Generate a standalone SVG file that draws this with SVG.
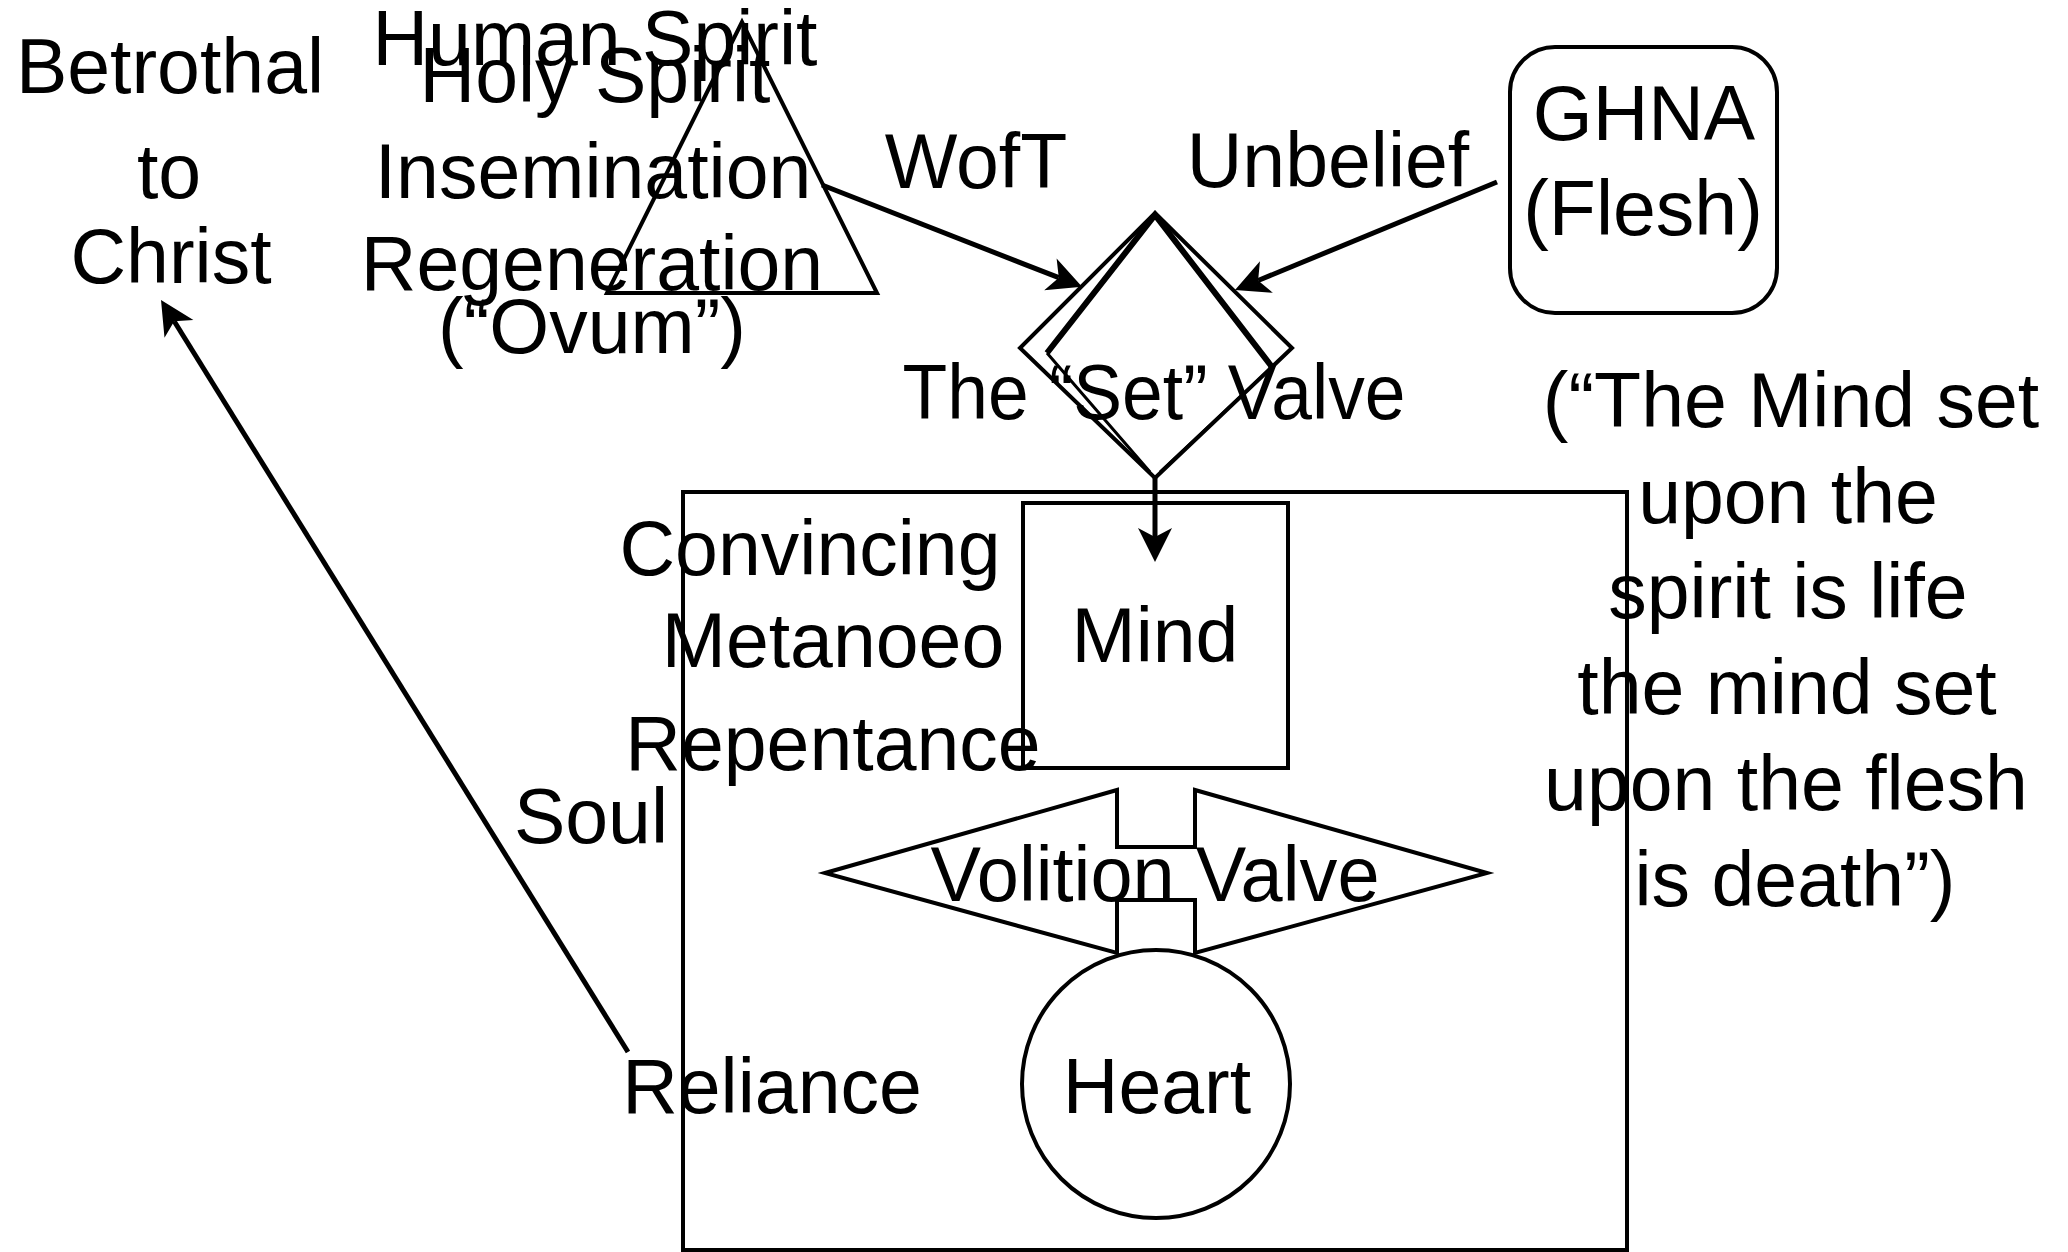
<svg xmlns="http://www.w3.org/2000/svg" width="2068" height="1252" viewBox="0 0 2068 1252">
<style>
.t{font-family:"Liberation Sans",Arial,sans-serif;font-size:77px;fill:#000;text-anchor:middle}
.s{fill:none;stroke:#000;stroke-width:4;stroke-linejoin:miter}
.c{fill:none;stroke:#000;stroke-width:5}
</style>
<defs>
<marker id="ah" viewBox="-10 -18 36 36" refX="0" refY="0" markerWidth="36" markerHeight="36" markerUnits="userSpaceOnUse" orient="auto">
<path d="M25,0 L-9,-17 L0,0 L-9,17 Z" fill="#000"/>
</marker>
</defs>
<rect width="2068" height="1252" fill="#fff"/>

<g id="soul">
<rect class="s" x="683" y="492" width="944" height="758" stroke-width="4.5"/>
<text class="t" x="591" y="843">Soul</text>
</g>

<g id="betrothal">
<text class="t" x="170" y="93">Betrothal</text>
<text class="t" x="169" y="198">to</text>
<text class="t" x="171" y="283">Christ</text>
</g>

<g id="spirit">
<polygon class="s" points="742,22 607,293 877,293"/>
<text class="t" x="595" y="65">Human Spirit</text>
<text class="t" x="595" y="102">Holy Spirit</text>
<text class="t" x="593" y="198">Insemination</text>
<text class="t" x="592" y="290">Regeneration</text>
<text class="t" x="592" y="353">(“Ovum”)</text>
</g>

<g id="set-valve">
<polygon class="s" points="1155,213 1292,348 1155,478 1020,348" stroke-width="3.5"/>
<path d="M1047,353 L1155,215 L1272,367" fill="none" stroke="#000" stroke-width="6"/>
<path d="M1047,353 L1150,472 M1272,367 L1160,472" fill="none" stroke="#000" stroke-width="3"/>
<text class="t" x="1154" y="419" textLength="503" lengthAdjust="spacingAndGlyphs">The “Set” Valve</text>
</g>

<g id="ghna">
<rect class="s" x="1510" y="47" width="267" height="266" rx="45" ry="45"/>
<text class="t" x="1644" y="140">GHNA</text>
<text class="t" x="1643" y="235">(Flesh)</text>
</g>

<g id="mind">
<rect class="s" x="1023" y="503" width="265" height="265" stroke-width="5"/>
<text class="t" x="1155" y="662">Mind</text>
<text class="t" x="810" y="575">Convincing</text>
<text class="t" x="833" y="667">Metanoeo</text>
<text class="t" x="833" y="770">Repentance</text>
</g>

<g id="volition">
<polygon class="s" points="825,873 1117,790 1117,847 1195,847 1195,790 1487,873 1195,953 1195,900 1117,900 1117,953"/>
<text class="t" x="1155" y="901" textLength="449" lengthAdjust="spacingAndGlyphs">Volition Valve</text>
</g>

<g id="heart">
<circle class="s" cx="1156" cy="1084" r="134"/>
<text class="t" x="1157" y="1113">Heart</text>
</g>

<g id="reliance">
<text class="t" x="772" y="1113">Reliance</text>
</g>

<g id="labels">
<text class="t" x="976" y="188">WofT</text>
<text class="t" x="1328" y="187">Unbelief</text>
</g>

<g id="quote">
<text class="t" x="1791" y="427">(“The Mind set</text>
<text class="t" x="1788" y="523">upon the</text>
<text class="t" x="1788" y="618">spirit is life</text>
<text class="t" x="1787" y="714">the mind set</text>
<text class="t" x="1786" y="810">upon the flesh</text>
<text class="t" x="1795" y="906">is death”)</text>
</g>

<g id="connectors">
<line class="c" x1="628" y1="1052" x2="174.2" y2="321.2" marker-end="url(#ah)"/>
<line class="c" x1="822" y1="185" x2="1058.8" y2="277.7" marker-end="url(#ah)"/>
<line class="c" x1="1497" y1="182" x2="1258.1" y2="280.5" marker-end="url(#ah)"/>
<line class="c" x1="1155" y1="478" x2="1155" y2="537" marker-end="url(#ah)"/>
</g>
</svg>
